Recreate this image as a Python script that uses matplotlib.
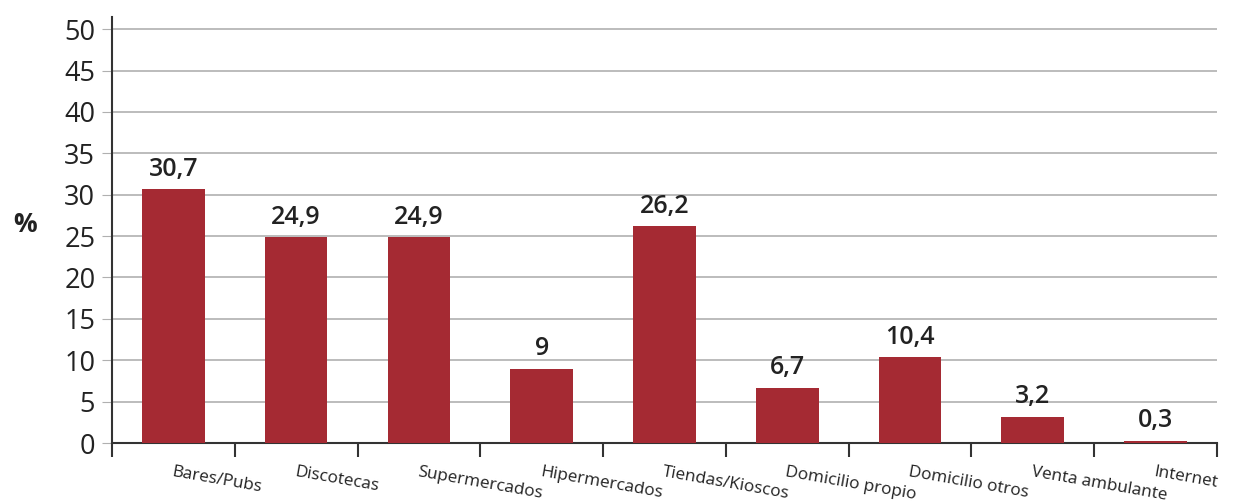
import matplotlib.pyplot as plt
import numpy as np

categories = ["Bares/Pubs", "Discotecas", "Supermercados", "Hipermercados", "Tiendas/Kioscos",
              "Domicilio propio", "Domicilio otros", "Venta ambulante", "Internet"]
values = [30.7, 24.9, 24.9, 9, 26.2, 6.7, 10.4, 3.2, 0.3]
labels = ["30,7", "24,9", "24,9", "9", "26,2", "6,7", "10,4", "3,2", "0,3"]

plt.rcParams["font.family"] = ["Open Sans", "DejaVu Sans"]

fig = plt.figure(figsize=(12.37, 5.04), dpi=100)
ax = fig.add_axes([0.0905, 0.121, 0.8933, 0.845])

x = np.arange(len(categories))
ax.bar(x, values, width=0.51, color="#A52A33", zorder=3)
for xi, v, lab in zip(x, values, labels):
    ax.annotate(lab, xy=(xi, v), xytext=(0, 9.5), textcoords="offset points",
                ha="center", va="baseline", fontsize=18, fontweight="semibold", color="#222222")

ax.set_xlim(-0.5, len(categories) - 0.5)
ax.set_ylim(0, 51.45)
ax.set_yticks(range(0, 51, 5))
ax.tick_params(axis="y", labelsize=19.5, length=7, color="#b0b0b0", labelcolor="#222222", pad=5)
ax.yaxis.grid(True, color="#b0b0b0", linewidth=1.2, zorder=0)

ax.set_xticks(np.arange(-0.5, len(categories), 1.0))
ax.set_xticklabels([])
ax.tick_params(axis="x", length=10, width=1.5, color="#333333", direction="out")
for xi, cat in zip(x, categories):
    ax.annotate(cat, xy=(xi, 0), xycoords="data", xytext=(0, -15), textcoords="offset points",
                rotation=-10, ha="left", va="top", rotation_mode="anchor", fontsize=12.3, color="#222222")

for s in ["top", "right"]:
    ax.spines[s].set_visible(False)
ax.spines["left"].set_color("#333333")
ax.spines["left"].set_linewidth(1.5)
ax.spines["bottom"].set_color("#333333")
ax.spines["bottom"].set_linewidth(1.5)

fig.text(0.011, 0.555, "%", fontsize=19, fontweight="bold", color="#222222", ha="left", va="center")

fig.savefig("out.png", dpi=100)
